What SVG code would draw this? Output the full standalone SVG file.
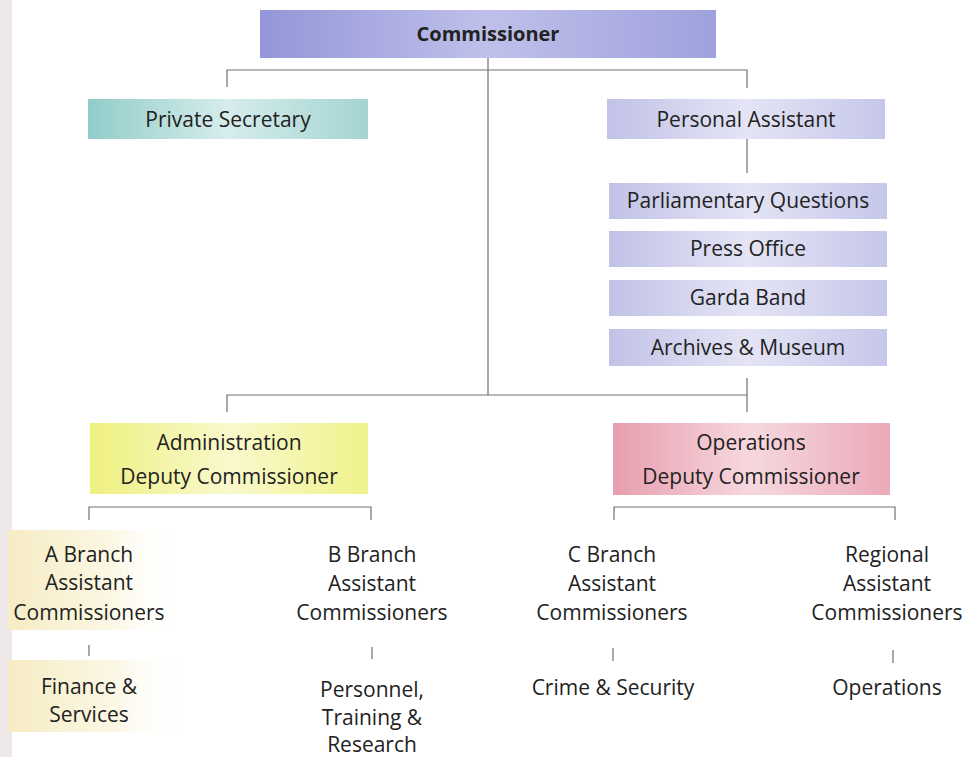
<svg xmlns="http://www.w3.org/2000/svg" width="967" height="757" viewBox="0 0 967 757">
<style>
text{font-family:"Open Sans","Noto Sans","Liberation Sans",sans-serif;font-size:21px;fill:#222;text-anchor:middle}
.b{font-weight:bold;font-size:20px}
.ln{fill:none;stroke:#707070;stroke-width:1.2}
</style>
<defs>
<linearGradient id="gBlue" x1="0" y1="0" x2="1" y2="0">
<stop offset="0" stop-color="#9496d8"/><stop offset="0.5" stop-color="#bfc0ea"/><stop offset="1" stop-color="#9fa1dd"/>
</linearGradient>
<linearGradient id="gTeal" x1="0" y1="0" x2="1" y2="0">
<stop offset="0" stop-color="#92ccc9"/><stop offset="0.5" stop-color="#d6edec"/><stop offset="1" stop-color="#a3d4d1"/>
</linearGradient>
<linearGradient id="gLav" x1="0" y1="0" x2="1" y2="0">
<stop offset="0" stop-color="#c1c2e7"/><stop offset="0.5" stop-color="#e4e4f5"/><stop offset="1" stop-color="#c6c7ea"/>
</linearGradient>
<linearGradient id="gYel" x1="0" y1="0" x2="1" y2="0">
<stop offset="0" stop-color="#eef080"/><stop offset="0.5" stop-color="#f9f9cc"/><stop offset="1" stop-color="#f0f28c"/>
</linearGradient>
<linearGradient id="gPink" x1="0" y1="0" x2="1" y2="0">
<stop offset="0" stop-color="#e79eae"/><stop offset="0.5" stop-color="#f7d8df"/><stop offset="1" stop-color="#eaaab8"/>
</linearGradient>
<linearGradient id="gBg" x1="0" y1="0" x2="1" y2="0">
<stop offset="0" stop-color="#f6ecc4"/><stop offset="0.6" stop-color="#fbf7e4"/><stop offset="1" stop-color="#ffffff" stop-opacity="0"/>
</linearGradient>
</defs>
<rect x="0" y="0" width="967" height="757" fill="#ffffff"/>
<rect x="0" y="0" width="12" height="757" fill="#efe8ea"/>
<rect x="8" y="530" width="170" height="100" fill="url(#gBg)"/>
<rect x="8" y="660" width="175" height="72" fill="url(#gBg)"/>

<g id="connectors">
<path class="ln" d="M227,87 V70 H747 V88"/>
<path class="ln" d="M488,58 V395"/>
<path class="ln" d="M747,139 V173"/>
<path class="ln" d="M227,412 V395 H747"/>
<path class="ln" d="M747,378 V412"/>
<path class="ln" d="M89,520 V507 H371 V520"/>
<path class="ln" d="M614,520 V507 H895 V520"/>
<path class="ln" d="M89,645 V656"/>
<path class="ln" d="M372,647 V659"/>
<path class="ln" d="M613,648 V661"/>
<path class="ln" d="M893,650 V663"/>
</g>

<g id="commissioner">
<rect x="260" y="10" width="456" height="48" fill="url(#gBlue)"/>
<text class="b" x="488" y="41">Commissioner</text>
</g>
<g id="private-secretary">
<rect x="88" y="99" width="280" height="40" fill="url(#gTeal)"/>
<text x="228" y="127">Private Secretary</text>
</g>
<g id="personal-assistant">
<rect x="607" y="99" width="278" height="40" fill="url(#gLav)"/>
<text x="746" y="127">Personal Assistant</text>
</g>
<g id="parliamentary-questions">
<rect x="609" y="183" width="278" height="36" fill="url(#gLav)"/>
<text x="748" y="208">Parliamentary Questions</text>
</g>
<g id="press-office">
<rect x="609" y="231" width="278" height="36" fill="url(#gLav)"/>
<text x="748" y="256">Press Office</text>
</g>
<g id="garda-band">
<rect x="609" y="280" width="278" height="36" fill="url(#gLav)"/>
<text x="748" y="305">Garda Band</text>
</g>
<g id="archives-museum">
<rect x="609" y="329" width="278" height="37" fill="url(#gLav)"/>
<text x="748" y="355">Archives &amp; Museum</text>
</g>
<g id="admin-deputy">
<rect x="90" y="423" width="278" height="71" fill="url(#gYel)"/>
<text x="229" y="450">Administration</text>
<text x="229" y="484">Deputy Commissioner</text>
</g>
<g id="operations-deputy">
<rect x="613" y="423" width="277" height="72" fill="url(#gPink)"/>
<text x="751" y="450">Operations</text>
<text x="751" y="484">Deputy Commissioner</text>
</g>
<g id="a-branch">
<text x="89" y="562">A Branch</text>
<text x="89" y="590">Assistant</text>
<text x="89" y="620">Commissioners</text>
</g>
<g id="b-branch">
<text x="372" y="562">B Branch</text>
<text x="372" y="591">Assistant</text>
<text x="372" y="620">Commissioners</text>
</g>
<g id="c-branch">
<text x="612" y="562">C Branch</text>
<text x="612" y="591">Assistant</text>
<text x="612" y="620">Commissioners</text>
</g>
<g id="regional">
<text x="887" y="562">Regional</text>
<text x="887" y="591">Assistant</text>
<text x="887" y="620">Commissioners</text>
</g>
<g id="finance-services">
<text x="89" y="694">Finance &amp;</text>
<text x="89" y="722">Services</text>
</g>
<g id="personnel-training">
<text x="372" y="697">Personnel,</text>
<text x="372" y="725">Training &amp;</text>
<text x="372" y="752">Research</text>
</g>
<g id="crime-security">
<text x="613" y="695">Crime &amp; Security</text>
</g>
<g id="operations">
<text x="887" y="695">Operations</text>
</g>
</svg>
